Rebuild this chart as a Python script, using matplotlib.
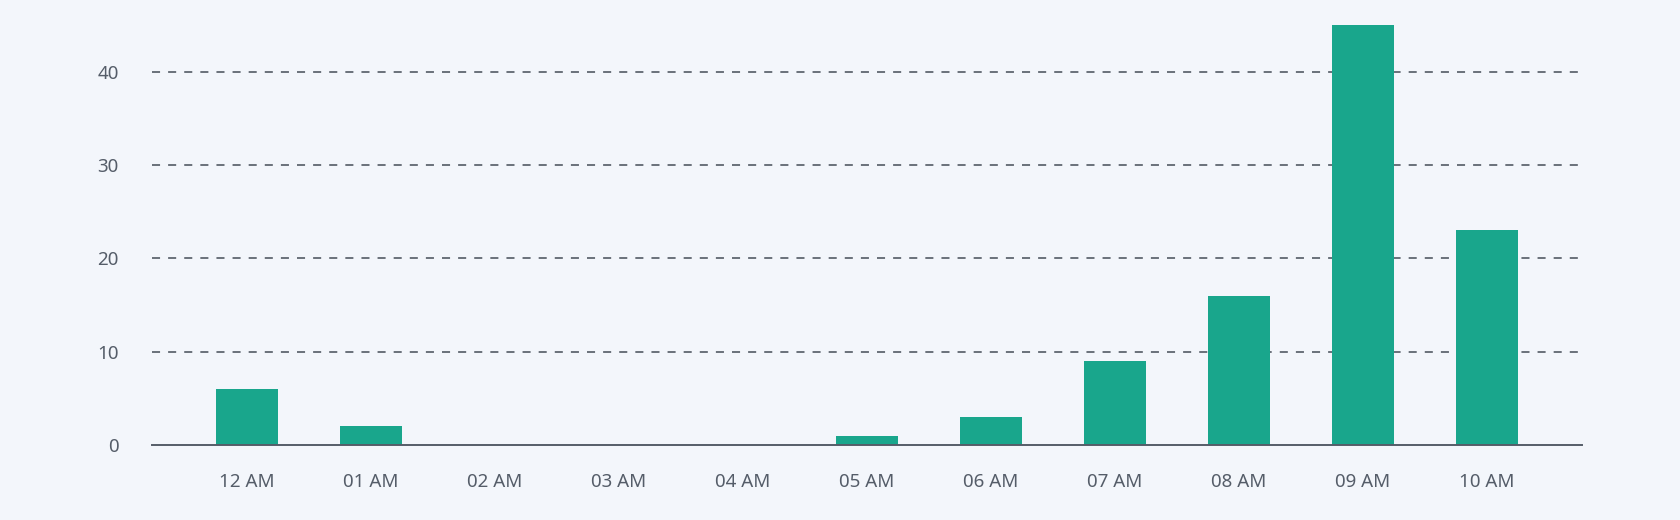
import matplotlib
matplotlib.use("Agg")
import matplotlib.pyplot as plt

hours = ["12 AM", "01 AM", "02 AM", "03 AM", "04 AM", "05 AM",
         "06 AM", "07 AM", "08 AM", "09 AM", "10 AM"]
counts = [6, 2, 0, 0, 0, 1, 3, 9, 16, 45, 23]
y_ticks = [0, 10, 20, 30, 40]

bg = "#f3f6fb"
bar_color = "#19a68c"
text_color = "#555d69"

plt.rcParams["font.family"] = ["Noto Sans", "DejaVu Sans"]
plt.rcParams["lines.scale_dashes"] = False

fig = plt.figure(figsize=(16.8, 5.2), dpi=100, facecolor=bg)
ax = fig.add_axes([0.0905, 0.1442, 0.8512, 0.8256])
ax.set_facecolor(bg)

x = list(range(len(hours)))
ax.bar(x, counts, width=0.5, color=bar_color, zorder=3)

for t in y_ticks[1:]:
    ax.axhline(t, color="#5f6670", lw=1.3, linestyle=(0, (5.8, 5.8)), zorder=1)

ax.set_xlim(-0.766, len(hours) - 1 + 0.766)
ax.set_ylim(0, 46)
ax.set_xticks(x)
ax.set_xticklabels(hours)
ax.set_yticks(y_ticks)

for side in ["top", "right", "left"]:
    ax.spines[side].set_visible(False)
ax.spines["bottom"].set_color(text_color)
ax.spines["bottom"].set_linewidth(1.4)
ax.spines["bottom"].set_zorder(4)

ax.tick_params(axis="both", length=0, labelsize=13.5, colors=text_color)
ax.tick_params(axis="y", pad=24)
ax.tick_params(axis="x", pad=20)

fig.savefig("out.png", dpi=100, facecolor=bg)
